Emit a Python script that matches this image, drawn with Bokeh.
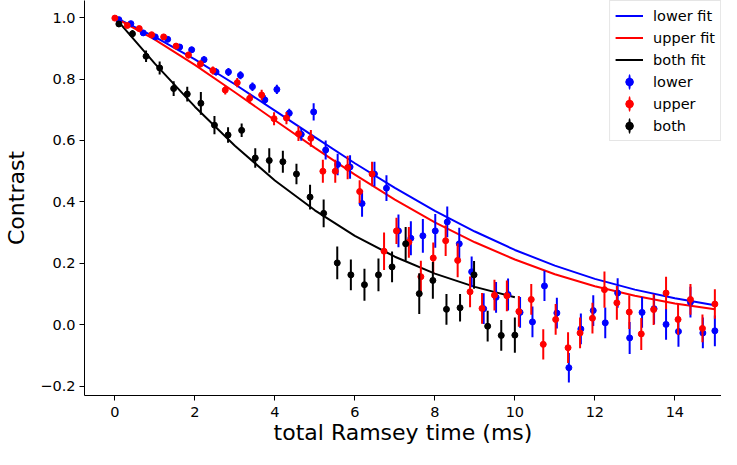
import numpy as np
from bokeh.plotting import figure
from bokeh.models import (ColumnDataSource, FixedTicker, CustomJSTickFormatter,
                          Legend, LegendItem, Range1d)
from bokeh.embed import file_html
from bokeh.resources import INLINE

# ---------------- data ----------------
lower_t = [0.10, 0.40, 0.71, 1.01, 1.32, 1.62, 1.92, 2.23, 2.53, 2.84,
           3.14, 3.44, 3.75, 4.05, 4.36, 4.66, 4.97, 5.27, 5.57, 5.88,
           6.18, 6.49, 6.79, 7.09, 7.40, 7.70, 8.01, 8.31, 8.61, 8.92,
           9.22, 9.53, 9.83, 10.13, 10.44, 10.74, 11.05, 11.35, 11.65, 11.96,
           12.26, 12.57, 12.87, 13.18, 13.48, 13.78, 14.09, 14.39, 14.70, 15.00]
lower_c = [0.993, 0.980, 0.950, 0.937, 0.929, 0.904, 0.895, 0.863, 0.823, 0.823,
           0.812, 0.775, 0.732, 0.766, 0.689, 0.620, 0.693, 0.569, 0.522, 0.514,
           0.395, 0.491, 0.445, 0.306, 0.282, 0.290, 0.306, 0.335, 0.264, 0.173,
           0.053, 0.090, 0.099, 0.041, 0.010, 0.127, 0.039, -0.139, -0.013, 0.047,
           0.007, 0.104, -0.042, 0.041, 0.053, 0.002, -0.021, 0.074, -0.026, -0.019]
lower_err = [0.005, 0.006, 0.007, 0.008, 0.008, 0.009, 0.010, 0.011, 0.012, 0.013,
             0.013, 0.014, 0.015, 0.015, 0.014, 0.021, 0.028, 0.031, 0.035, 0.038,
             0.043, 0.040, 0.042, 0.053, 0.055, 0.055, 0.055, 0.050, 0.052, 0.050,
             0.050, 0.050, 0.052, 0.050, 0.050, 0.049, 0.050, 0.048, 0.050, 0.050,
             0.050, 0.048, 0.052, 0.050, 0.050, 0.050, 0.050, 0.050, 0.050, 0.050]

upper_t = [0.00, 0.31, 0.61, 0.92, 1.22, 1.53, 1.84, 2.14, 2.45, 2.76,
           3.06, 3.37, 3.67, 3.98, 4.29, 4.59, 4.90, 5.20, 5.51, 5.82,
           6.12, 6.43, 6.73, 7.04, 7.35, 7.65, 7.96, 8.27, 8.57, 8.88,
           9.18, 9.49, 9.80, 10.10, 10.41, 10.71, 11.02, 11.33, 11.63, 11.94,
           12.24, 12.55, 12.86, 13.16, 13.47, 13.78, 14.08, 14.39, 14.69, 15.00]
upper_c = [0.998, 0.974, 0.964, 0.944, 0.937, 0.907, 0.878, 0.849, 0.828, 0.764,
           0.788, 0.737, 0.748, 0.671, 0.673, 0.622, 0.607, 0.500, 0.500, 0.512,
           0.434, 0.491, 0.240, 0.306, 0.269, 0.157, 0.218, 0.274, 0.210, 0.108,
           0.054, 0.097, 0.095, 0.044, 0.083, -0.063, 0.018, -0.074, -0.026, 0.022,
           0.115, 0.072, 0.042, -0.029, 0.050, 0.104, 0.018, 0.083, -0.011, 0.068]
upper_err = [0.005, 0.006, 0.007, 0.008, 0.009, 0.010, 0.011, 0.012, 0.013, 0.014,
             0.015, 0.016, 0.017, 0.021, 0.020, 0.024, 0.027, 0.037, 0.037, 0.038,
             0.037, 0.040, 0.061, 0.043, 0.050, 0.052, 0.050, 0.050, 0.055, 0.050,
             0.050, 0.050, 0.050, 0.050, 0.050, 0.049, 0.050, 0.050, 0.050, 0.050,
             0.059, 0.055, 0.055, 0.052, 0.050, 0.053, 0.050, 0.050, 0.045, 0.048]

both_t = [0.10, 0.44, 0.78, 1.12, 1.47, 1.81, 2.15, 2.49, 2.83, 3.17,
          3.51, 3.86, 4.20, 4.54, 4.88, 5.22, 5.56, 5.90, 6.24, 6.59,
          6.93, 7.27, 7.61, 7.95, 8.29, 8.63, 8.98, 9.32, 9.66, 10.00]
both_c = [0.979, 0.947, 0.874, 0.836, 0.769, 0.751, 0.721, 0.650, 0.618, 0.633,
          0.543, 0.535, 0.531, 0.491, 0.416, 0.363, 0.202, 0.163, 0.131, 0.163,
          0.189, 0.264, 0.102, 0.145, 0.051, 0.056, 0.163, -0.004, -0.034, -0.033]
both_err = [0.010, 0.012, 0.019, 0.021, 0.024, 0.024, 0.037, 0.030, 0.025, 0.022,
            0.032, 0.040, 0.036, 0.033, 0.040, 0.045, 0.053, 0.050, 0.052, 0.053,
            0.050, 0.055, 0.066, 0.060, 0.050, 0.045, 0.045, 0.050, 0.050, 0.057]

fit_t = [0, 1, 2, 3, 4, 5, 6, 7, 8, 9, 10, 11, 12, 13, 14, 15]
lower_fit = [1.000, 0.937, 0.864, 0.783, 0.697, 0.611, 0.526, 0.446, 0.371, 0.304,
             0.244, 0.193, 0.150, 0.115, 0.087, 0.064]
upper_fit = [1.000, 0.928, 0.846, 0.757, 0.666, 0.576, 0.489, 0.408, 0.334, 0.269,
             0.213, 0.165, 0.126, 0.095, 0.070, 0.051]
both_fit_t = [0.1, 1, 2, 3, 4, 5, 6, 7, 8, 9, 10]
both_fit = [0.985, 0.850, 0.710, 0.583, 0.470, 0.373, 0.290, 0.222, 0.167, 0.124, 0.090]

x_ticks = [0, 2, 4, 6, 8, 10, 12, 14]
y_ticks = [-0.2, 0.0, 0.2, 0.4, 0.6, 0.8, 1.0]

BLUE, RED, BLACK = "#0000ff", "#ff0000", "#000000"
FONT = "DejaVu Sans"

# ---------------- figure ----------------
p = figure(width=721, height=449, output_backend="svg", toolbar_location=None,
           x_range=Range1d(-0.759, 15.166), y_range=Range1d(-0.2293, 1.0553),
           min_border_left=84, min_border_right=0, min_border_top=0,
           min_border_bottom=54)
p.outline_line_color = None
p.xgrid.visible = False
p.ygrid.visible = False
p.background_fill_color = "white"
p.border_fill_color = "white"

# fit lines
r_lf = p.line(fit_t, lower_fit, line_color=BLUE, line_width=2)
r_uf = p.line(fit_t, upper_fit, line_color=RED, line_width=2)
r_bf = p.line(both_fit_t, both_fit, line_color=BLACK, line_width=2)

def errbars(t, c, e, col):
    c = np.array(c)
    e = np.array(e)
    src = ColumnDataSource(dict(t=t, c=c, lo=c - e, hi=c + e))
    p.segment(x0="t", y0="lo", x1="t", y1="hi", source=src,
              line_color=col, line_width=2)
    return p.scatter("t", "c", source=src, marker="circle", size=6,
                     fill_color=col, line_color=col)

errbars(lower_t, lower_c, lower_err, BLUE)
errbars(upper_t, upper_c, upper_err, RED)
errbars(both_t, both_c, both_err, BLACK)

# legend-only glyphs: a thin vertical ellipse (error bar) plus a dot
def legend_glyphs(col):
    nan = dict(x=np.array([np.nan]), y=np.array([np.nan]))
    bar = p.ellipse("x", "y", source=ColumnDataSource(nan), width=2, height=15,
                    width_units="screen", height_units="screen",
                    fill_color=col, line_color=col, line_width=0.5)
    dot = p.scatter("x", "y", source=ColumnDataSource(nan), marker="circle",
                    size=6, fill_color=col, line_color=col)
    return [bar, dot]

legend = Legend(items=[
    LegendItem(label="lower fit", renderers=[r_lf]),
    LegendItem(label="upper fit", renderers=[r_uf]),
    LegendItem(label="both fit", renderers=[r_bf]),
    LegendItem(label="lower", renderers=legend_glyphs(BLUE)),
    LegendItem(label="upper", renderers=legend_glyphs(RED)),
    LegendItem(label="both", renderers=legend_glyphs(BLACK)),
], location="top_right")
legend.margin = 0
legend.padding = 5
legend.spacing = 3
legend.glyph_width = 28
legend.glyph_height = 19
legend.label_standoff = 10
legend.label_text_font = FONT
legend.label_text_font_size = "14.5px"
legend.label_text_color = "black"
legend.border_line_color = "#cccccc"
legend.border_line_width = 1
legend.background_fill_color = "white"
legend.background_fill_alpha = 0.8
p.add_layout(legend)

# axes
for ax in (p.xaxis[0], p.yaxis[0]):
    ax.axis_line_color = "black"
    ax.axis_line_width = 1
    ax.major_tick_line_color = "black"
    ax.major_tick_line_width = 1
    ax.major_tick_in = 0
    ax.major_tick_out = 5
    ax.minor_tick_line_color = None
    ax.major_label_text_font = FONT
    ax.major_label_text_font_size = "14.5px"
    ax.major_label_text_color = "black"
    ax.axis_label_text_font = FONT
    ax.axis_label_text_font_size = "22px"
    ax.axis_label_text_font_style = "normal"
    ax.axis_label_text_color = "black"

p.xaxis.ticker = FixedTicker(ticks=x_ticks)
p.yaxis.ticker = FixedTicker(ticks=y_ticks)
p.yaxis.formatter = CustomJSTickFormatter(
    code='return tick < 0 ? "\\u2212" + Math.abs(tick).toFixed(1) : tick.toFixed(1);')
p.xaxis.axis_label = "total Ramsey time (ms)"
p.yaxis.axis_label = "Contrast"
p.xaxis.major_label_standoff = 6
p.yaxis.major_label_standoff = 4
p.xaxis.axis_label_standoff = 0
p.yaxis.axis_label_standoff = 8

open("out.html", "w").write(file_html(p, INLINE))
